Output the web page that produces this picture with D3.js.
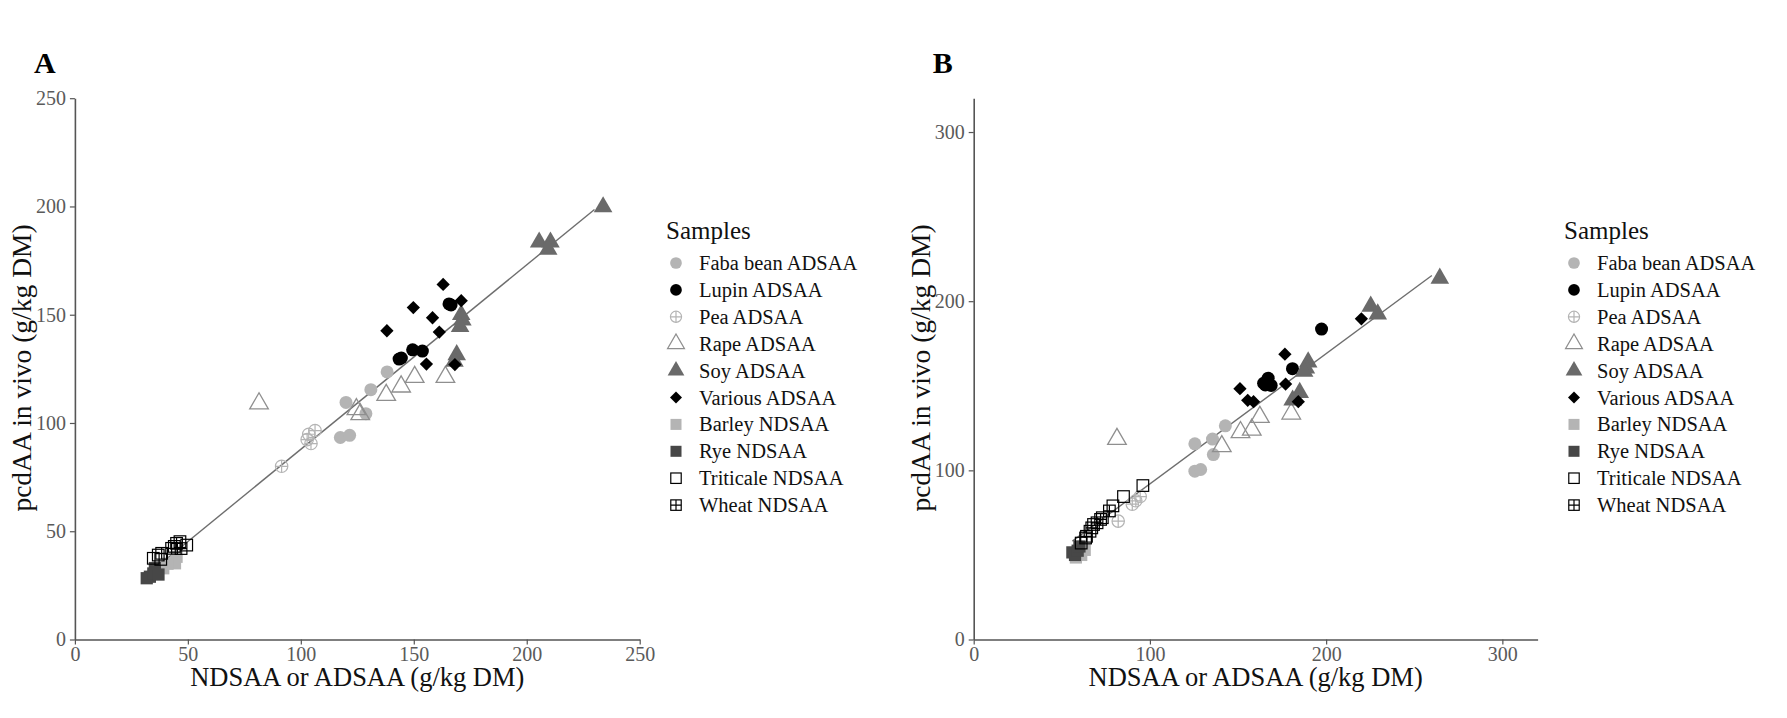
<!DOCTYPE html>
<html>
<head>
<meta charset="utf-8">
<script src="https://cdn.jsdelivr.net/npm/d3@7"></script>
<style>
  body { margin: 0; background: #fff; }
  svg { display: block; }
  text { font-family: "Liberation Serif", "Times New Roman", serif; }
</style>
</head>
<body>
<script>
// series names, in legend order
var seriesNames = ["Faba bean ADSAA", "Lupin ADSAA", "Pea ADSAA", "Rape ADSAA", "Soy ADSAA",
                   "Various ADSAA", "Barley NDSAA", "Rye NDSAA", "Triticale NDSAA", "Wheat NDSAA"];

// ---- panel A data: [NDSAA or ADSAA, pcdAA in vivo] ----
var fabaA      = [[138.2,123.6],[131,115.4],[120,109.5],[128.8,104.3],[117.5,93.3],[121.6,94.3]];
var lupinA     = [[143.5,129.5],[144.5,130],[149.5,133.8],[153.8,133.2],[165.6,155],[166.5,154.5]];
var peaA       = [[91.5,80],[102.8,92.3],[103.5,94.8],[106.3,96.5],[104.5,90.5]];
var rapeA      = [[81.5,109],[124.6,106.3],[126.3,104],[137.8,112.9],[144.4,116.8],[150.4,121.2],[164,121.2]];
var soyA       = [[233.8,199.8],[205.5,183.5],[210.5,183.5],[209.5,180.2],[171,150],[171.5,147.5],[170.5,144.5],[169,131.5],[168,128.5]];
var variousA   = [[163,164],[171,156.5],[158.3,148.6],[149.8,153.3],[138.1,142.6],[161.3,142],[155.6,127.2],[168.2,127]];
var barleyA    = [[45,38.2],[44.3,35.2],[39.1,32.9],[41,35]];
var ryeA       = [[33.2,29],[31.8,28.3],[34.7,30.5],[35.4,33],[37,30]];
var triticaleA = [[49.5,43.6],[46.5,45.2],[36.9,39],[34.7,37.5],[44,43],[38,37]];
var wheatA     = [[45,44.4],[42.8,42.1],[38.4,39.8],[47,42]];

// ---- panel B data ----
var fabaB      = [[142.8,126.3],[135.5,118.5],[125.5,115.7],[136,109.3],[125.5,99.5],[128.8,100.5]];
var lupinB     = [[197.4,183.5],[180.9,160.1],[167.1,154.5],[165.5,150.5],[168.8,150.2],[164.5,151.5]];
var peaB       = [[61,54.5],[82,70],[90,80],[92,82],[94.5,84.5]];
var rapeB      = [[81.3,118.5],[140.8,114.2],[151.4,122.5],[157.8,124],[162.4,131.5],[180.2,133.5]];
var soyB       = [[264.5,213.5],[225.3,197],[229.3,192.4],[189.8,164],[188.5,160.5],[187.5,158.5],[185,146],[181,141.5]];
var variousB   = [[220,189.6],[176.6,168.7],[151.1,148.3],[155.5,141.4],[158.8,140.6],[177,151],[184.2,140.6]];
var barleyB    = [[58,48.5],[61,50],[63,53]];
var ryeB       = [[56,51.5],[57.5,50],[59,52.5],[60,55]];
var triticaleB = [[96,91],[85,84.5],[79,79],[73,72],[68,68],[66,64],[63.5,60],[61,57]];
var wheatB     = [[72,71],[77,76],[67,66],[64,61],[70,69]];

// axis ticks and ranges
var ticksA = [0, 50, 100, 150, 200, 250];
var ticksB = [0, 100, 200, 300];
var maxA = 250;
var maxB = 320;

// fitted lines: [intercept, slope, x from, x to]
var fitA = [2.65, 0.852, 32, 230];
var fitB = [15, 0.77, 56, 260];

// marker look for each series
var markStyle = {
  "Faba bean ADSAA": {shape: "circle", color: "#b4b4b4"},
  "Lupin ADSAA":     {shape: "circle", color: "#000000"},
  "Pea ADSAA":       {shape: "circlePlus", color: "#b4b4b4"},
  "Rape ADSAA":      {shape: "triOpen", color: "#8f8f8f"},
  "Soy ADSAA":       {shape: "tri", color: "#6a6a6a"},
  "Various ADSAA":   {shape: "diamond", color: "#000000"},
  "Barley NDSAA":    {shape: "square", color: "#b4b4b4"},
  "Rye NDSAA":       {shape: "square", color: "#474747"},
  "Triticale NDSAA": {shape: "squareOpen", color: "#000000"},
  "Wheat NDSAA":     {shape: "squarePlus", color: "#000000"}
};

var W = 1787, H = 718;
var svg = d3.select("body").append("svg").attr("width", W).attr("height", H);
svg.append("rect").attr("width", W).attr("height", H).attr("fill", "#fff");

// draw one marker centred at the group origin
function drawMark(g, st, k) {
  var c = st.color;
  if (st.shape == "circle") {
    g.append("circle").attr("r", 6.5 * k).attr("fill", c);
  } else if (st.shape == "circlePlus") {
    var r = 6.2 * k;
    g.append("circle").attr("r", r).attr("fill", "none").attr("stroke", c).attr("stroke-width", 1.2);
    g.append("path").attr("d", "M" + (-r) + ",0H" + r + "M0," + (-r) + "V" + r)
      .attr("stroke", c).attr("stroke-width", 1.2);
  } else if (st.shape == "triOpen" || st.shape == "tri") {
    var p = g.append("path").attr("d", d3.symbol(d3.symbolTriangle, 150 * k * k)());
    if (st.shape == "tri") p.attr("fill", c);
    else p.attr("fill", "none").attr("stroke", c).attr("stroke-width", 1.3);
  } else if (st.shape == "diamond") {
    g.append("path").attr("d", d3.symbol(d3.symbolSquare, 88 * k * k)())
      .attr("transform", "rotate(45)").attr("fill", c);
  } else if (st.shape == "square") {
    g.append("path").attr("d", d3.symbol(d3.symbolSquare, 150 * k * k)()).attr("fill", c);
  } else {
    var h = 5.8 * k;
    g.append("rect").attr("x", -h).attr("y", -h).attr("width", 2 * h).attr("height", 2 * h)
      .attr("fill", "none").attr("stroke", c).attr("stroke-width", 1.2);
    if (st.shape == "squarePlus") {
      g.append("path").attr("d", "M" + (-h) + ",0H" + h + "M0," + (-h) + "V" + h)
        .attr("stroke", c).attr("stroke-width", 1.2);
    }
  }
}

function drawPanel(cfg) {
  var x = d3.scaleLinear().domain([0, cfg.max]).range([cfg.left, cfg.right]);
  var y = d3.scaleLinear().domain([0, cfg.max]).range([cfg.bottom, cfg.top]);

  // fitted line goes under the points
  var f = cfg.fit;
  svg.append("line")
     .attr("x1", x(f[2])).attr("y1", y(f[0] + f[1] * f[2]))
     .attr("x2", x(f[3])).attr("y2", y(f[0] + f[1] * f[3]))
     .attr("stroke", "#6e6e6e").attr("stroke-width", 1.4);

  seriesNames.forEach(function (name, i) {
    svg.append("g").selectAll("g")
       .data(cfg.data[i])
       .enter().append("g")
       .attr("transform", function (d) { return "translate(" + x(d[0]) + "," + y(d[1]) + ")"; })
       .each(function () { drawMark(d3.select(this), markStyle[name], 1); });
  });

  // axes
  var ax = svg.append("g").attr("transform", "translate(0," + cfg.bottom + ")")
     .call(d3.axisBottom(x).tickValues(cfg.ticks).tickSize(5).tickSizeOuter(0).tickPadding(2));
  var ay = svg.append("g").attr("transform", "translate(" + cfg.left + ",0)")
     .call(d3.axisLeft(y).tickValues(cfg.ticks).tickSize(5).tickSizeOuter(0).tickPadding(4));
  [ax, ay].forEach(function (a) {
    a.select(".domain").attr("stroke", "#555").attr("stroke-width", 1.6);
    a.selectAll(".tick line").attr("stroke", "#555").attr("stroke-width", 1.2);
    a.selectAll(".tick text").attr("fill", "#5a5a5a").style("font-size", "20px")
     .style("font-family", "'Liberation Serif', serif");
  });

  // titles
  svg.append("text").attr("x", cfg.left - 41).attr("y", 73)
     .style("font-size", "30px").style("font-weight", "bold").text(cfg.label);
  svg.append("text").attr("x", (cfg.left + cfg.right) / 2).attr("y", 686)
     .attr("text-anchor", "middle").style("font-size", "26.5px").attr("fill", "#111")
     .text("NDSAA or ADSAA (g/kg DM)");
  svg.append("text")
     .attr("transform", "translate(" + (cfg.left - 44) + ",368) rotate(-90)")
     .attr("text-anchor", "middle").style("font-size", "27.5px").attr("fill", "#111")
     .text("pcdAA in vivo (g/kg DM)");

  // legend
  var lg = svg.append("g").attr("transform", "translate(" + cfg.legendX + ",0)");
  lg.append("text").attr("x", 0).attr("y", 239).style("font-size", "25px").attr("fill", "#111").text("Samples");
  seriesNames.forEach(function (name, i) {
    var cy = 263 + i * 26.9;
    var g = lg.append("g").attr("transform", "translate(10," + cy + ")");
    drawMark(g, markStyle[name], 0.9);
    lg.append("text").attr("x", 33).attr("y", cy + 7).style("font-size", "20.5px").attr("fill", "#111").text(name);
  });
}

drawPanel({label: "A", left: 74.9, right: 639.7, top: 98.2, bottom: 639.5, max: maxA, ticks: ticksA,
           fit: fitA, legendX: 666,
           data: [fabaA, lupinA, peaA, rapeA, soyA, variousA, barleyA, ryeA, triticaleA, wheatA]});
drawPanel({label: "B", left: 973.7, right: 1537.6, top: 98.2, bottom: 639.5, max: maxB, ticks: ticksB,
           fit: fitB, legendX: 1564,
           data: [fabaB, lupinB, peaB, rapeB, soyB, variousB, barleyB, ryeB, triticaleB, wheatB]});
</script>
</body>
</html>
